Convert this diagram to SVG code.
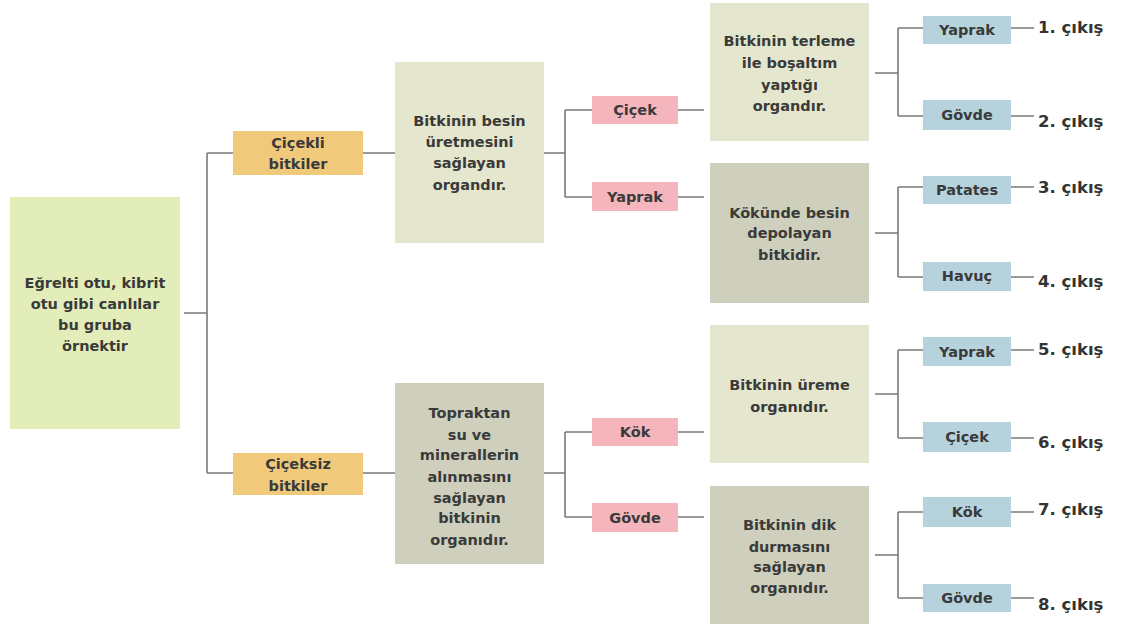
<svg xmlns="http://www.w3.org/2000/svg" width="1121" height="628" viewBox="0 0 1121 628">
<style>
text{font-family:"DejaVu Sans","Liberation Sans",sans-serif;font-weight:bold;font-size:14.5px;fill:#3a3a3a;text-anchor:middle}
.out{text-anchor:start;font-size:16.5px;fill:#333}
.root{fill:#e2edb9}
.org{fill:#f0c97a}
.lt{fill:#e4e6cd}
.dk{fill:#cfcfbd}
.pk{fill:#f4b5bd}
.bl{fill:#b6d3dd}
.c path{fill:none;stroke:#7a7a7a;stroke-width:1.6}
</style>
<rect width="1121" height="628" fill="#ffffff"/>
<g class="c" id="connectors">
<path d="M184 313H207M207 153V473M207 153H233M207 473H233"/>
<path d="M363 153H395M363 473H395"/>
<path d="M544 153H565M565 110V197M565 110H592M565 197H592"/>
<path d="M544 473H565M565 432V517M565 432H592M565 517H592"/>
<path d="M678 110H704M678 197H704M678 432H704M678 517H704"/>
<path d="M875 73H898M898 28V116M898 28H923M898 116H923"/>
<path d="M875 233H898M898 187V277M898 187H923M898 277H923"/>
<path d="M875 394H898M898 350V438M898 350H923M898 438H923"/>
<path d="M875 555H898M898 512V598M898 512H923M898 598H923"/>
<path d="M1011 28H1034M1011 116H1034M1011 187H1034M1011 277H1034M1011 350H1034M1011 438H1034M1011 512H1034M1011 598H1034"/>
</g>
<g id="root"><rect class="root" x="10" y="197" width="170" height="232"/>
<text x="95" y="288">Eğrelti otu, kibrit</text><text x="95" y="309">otu gibi canlılar</text><text x="95" y="330">bu gruba</text><text x="95" y="351">örnektir</text></g>
<g id="cicekli"><rect class="org" x="233" y="131" width="130" height="44"/>
<text x="298" y="148">Çiçekli</text><text x="298" y="169">bitkiler</text></g>
<g id="ciceksiz"><rect class="org" x="233" y="453" width="130" height="42"/>
<text x="298" y="469">Çiçeksiz</text><text x="298" y="491">bitkiler</text></g>
<g id="besin"><rect class="lt" x="395" y="62" width="149" height="181"/>
<text x="469.5" y="126">Bitkinin besin</text><text x="469.5" y="147">üretmesini</text><text x="469.5" y="168">sağlayan</text><text x="469.5" y="190">organdır.</text></g>
<g id="topraktan"><rect class="dk" x="395" y="383" width="149" height="181"/>
<text x="469.5" y="418">Topraktan</text><text x="469.5" y="440">su ve</text><text x="469.5" y="460">minerallerin</text><text x="469.5" y="482">alınmasını</text><text x="469.5" y="503">sağlayan</text><text x="469.5" y="523">bitkinin</text><text x="469.5" y="545">organıdır.</text></g>
<g id="p-cicek"><rect class="pk" x="592" y="96" width="86" height="28"/><text x="635" y="115">Çiçek</text></g>
<g id="p-yaprak"><rect class="pk" x="592" y="182" width="86" height="29"/><text x="635" y="202">Yaprak</text></g>
<g id="p-kok"><rect class="pk" x="592" y="418" width="86" height="28"/><text x="635" y="437">Kök</text></g>
<g id="p-govde"><rect class="pk" x="592" y="503" width="86" height="29"/><text x="635" y="523">Gövde</text></g>
<g id="terleme"><rect class="lt" x="710" y="3" width="159" height="138"/>
<text x="789.5" y="46">Bitkinin terleme</text><text x="789.5" y="68">ile boşaltım</text><text x="789.5" y="90">yaptığı</text><text x="789.5" y="111">organdır.</text></g>
<g id="kokunde"><rect class="dk" x="710" y="163" width="159" height="140"/>
<text x="789.5" y="218">Kökünde besin</text><text x="789.5" y="238">depolayan</text><text x="789.5" y="260">bitkidir.</text></g>
<g id="ureme"><rect class="lt" x="710" y="325" width="159" height="138"/>
<text x="789.5" y="390">Bitkinin üreme</text><text x="789.5" y="412">organıdır.</text></g>
<g id="dik"><rect class="dk" x="710" y="486" width="159" height="138"/>
<text x="789.5" y="530">Bitkinin dik</text><text x="789.5" y="552">durmasını</text><text x="789.5" y="572">sağlayan</text><text x="789.5" y="593">organıdır.</text></g>
<g id="b1"><rect class="bl" x="923" y="16" width="88" height="28"/><text x="967" y="35">Yaprak</text></g>
<g id="b2"><rect class="bl" x="923" y="100" width="88" height="30"/><text x="967" y="120">Gövde</text></g>
<g id="b3"><rect class="bl" x="923" y="176" width="88" height="28"/><text x="967" y="195">Patates</text></g>
<g id="b4"><rect class="bl" x="923" y="262" width="88" height="29"/><text x="967" y="281">Havuç</text></g>
<g id="b5"><rect class="bl" x="923" y="337" width="88" height="29"/><text x="967" y="357">Yaprak</text></g>
<g id="b6"><rect class="bl" x="923" y="422" width="88" height="30"/><text x="967" y="442">Çiçek</text></g>
<g id="b7"><rect class="bl" x="923" y="497" width="88" height="30"/><text x="967" y="517">Kök</text></g>
<g id="b8"><rect class="bl" x="923" y="584" width="88" height="28"/><text x="967" y="603">Gövde</text></g>
<g id="outputs">
<text class="out" x="1038" y="33">1. çıkış</text>
<text class="out" x="1038" y="127">2. çıkış</text>
<text class="out" x="1038" y="193">3. çıkış</text>
<text class="out" x="1038" y="287">4. çıkış</text>
<text class="out" x="1038" y="355">5. çıkış</text>
<text class="out" x="1038" y="448">6. çıkış</text>
<text class="out" x="1038" y="515">7. çıkış</text>
<text class="out" x="1038" y="610">8. çıkış</text>
</g>
</svg>
